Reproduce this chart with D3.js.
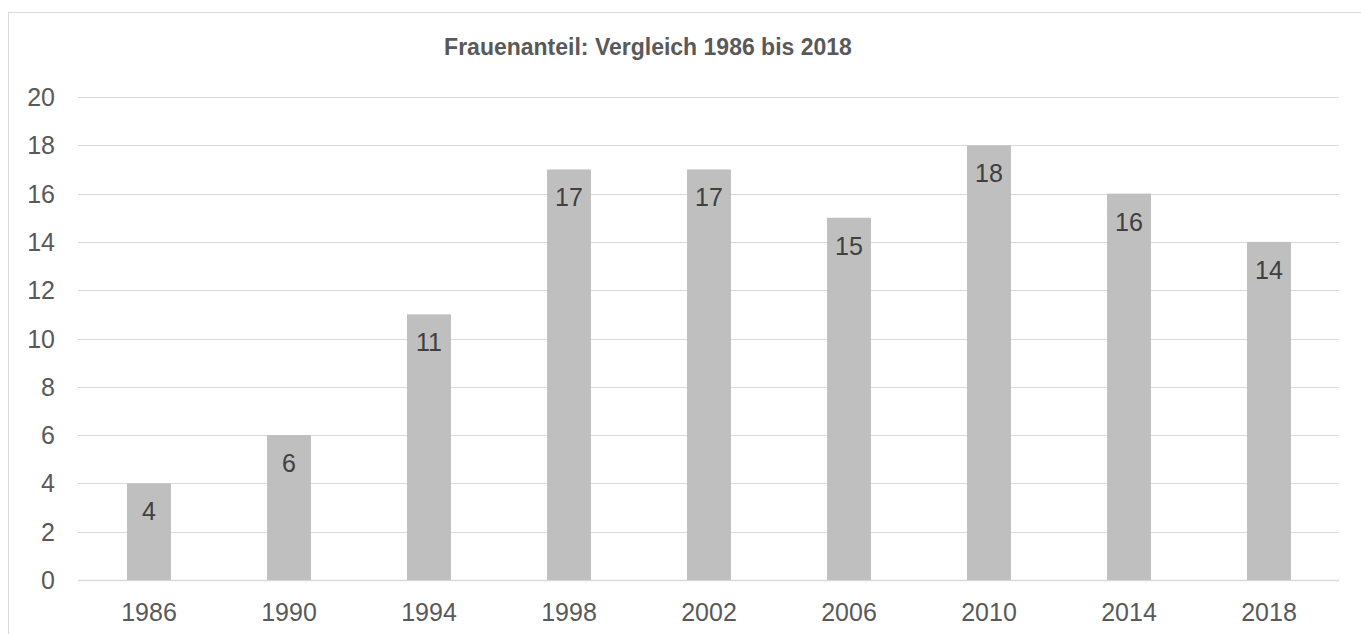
<!DOCTYPE html>
<html lang="de">
<head>
<meta charset="utf-8">
<title>Frauenanteil</title>
<script src="https://d3js.org/d3.v7.min.js"></script>
<style>
  body { margin: 0; background: #fff; font-family: Arial, "Liberation Sans", sans-serif; }
  svg { display: block; }
</style>
</head>
<body>
<div id="vis"></div>
<script>
  // chart data
  const years = ["1986", "1990", "1994", "1998", "2002", "2006", "2010", "2014", "2018"];
  const values = [4, 6, 11, 17, 17, 15, 18, 16, 14];
  const yTicks = [0, 2, 4, 6, 8, 10, 12, 14, 16, 18, 20];
  const title = "Frauenanteil: Vergleich 1986 bis 2018";

  const width = 1361;
  const height = 634;
  const margin = { top: 97, right: 22, bottom: 54, left: 79 };

  const svg = d3.select('#vis')
    .append('svg')
    .attr('width', width)
    .attr('height', height);

  // light frame around the chart (runs off right/bottom edge)
  svg.append('rect')
    .attr('x', 8.5).attr('y', 12.5)
    .attr('width', width + 10).attr('height', height + 10)
    .attr('fill', 'none')
    .attr('stroke', '#d9d9d9')
    .attr('stroke-width', 1);

  const x = d3.scaleBand()
    .domain(years)
    .range([margin.left, width - margin.right])
    .paddingInner(0.686)
    .paddingOuter(0.343);

  const y = d3.scaleLinear()
    .domain([0, 20])
    .range([height - margin.bottom, margin.top]);

  // gridlines
  svg.append('g')
    .selectAll('line')
    .data(yTicks)
    .join('line')
    .attr('x1', margin.left - 1)
    .attr('x2', width - margin.right)
    .attr('y1', d => Math.round(y(d)) + 0.5)
    .attr('y2', d => Math.round(y(d)) + 0.5)
    .attr('stroke', '#d9d9d9')
    .attr('stroke-width', d => d === 0 ? 1.5 : 1.2);

  // y axis labels
  svg.append('g')
    .selectAll('text')
    .data(yTicks)
    .join('text')
    .attr('x', 55)
    .attr('y', d => y(d))
    .attr('dy', '0.36em')
    .attr('text-anchor', 'end')
    .attr('font-size', 25)
    .attr('fill', '#595959')
    .text(d => d);

  // bars
  const data = years.map((yr, i) => ({ year: yr, value: values[i] }));

  svg.append('g')
    .selectAll('rect')
    .data(data)
    .join('rect')
    .attr('x', d => x(d.year))
    .attr('y', d => y(d.value))
    .attr('width', x.bandwidth())
    .attr('height', d => y(0) - y(d.value))
    .attr('fill', '#bfbfbf');

  // value labels inside the top of each bar
  svg.append('g')
    .selectAll('text')
    .data(data)
    .join('text')
    .attr('x', d => x(d.year) + x.bandwidth() / 2)
    .attr('y', d => y(d.value) + 37)
    .attr('text-anchor', 'middle')
    .attr('font-size', 25)
    .attr('fill', '#404040')
    .text(d => d.value);

  // x axis labels
  svg.append('g')
    .selectAll('text')
    .data(years)
    .join('text')
    .attr('x', d => x(d) + x.bandwidth() / 2)
    .attr('y', y(0) + 41)
    .attr('text-anchor', 'middle')
    .attr('font-size', 25)
    .attr('fill', '#595959')
    .text(d => d);

  // title
  svg.append('text')
    .attr('x', 648)
    .attr('y', 55)
    .attr('text-anchor', 'middle')
    .attr('font-size', 23)
    .attr('font-weight', 'bold')
    .attr('fill', '#595959')
    .text(title);
</script>
</body>
</html>
